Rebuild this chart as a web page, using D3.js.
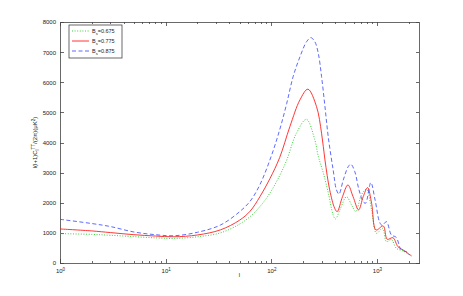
<!DOCTYPE html>
<html>
<head>
<meta charset="utf-8" />
<style>
  body { margin: 0; background: #fff; }
  svg text { font-family: 'Liberation Sans', Arial, sans-serif; fill: #222; }
  .axis path, .axis line { stroke: #444; stroke-width: 0.8px; shape-rendering: crispEdges; }
  .axis text { font-size: 6px; }
  .serie { fill: none; }
</style>
</head>
<body>
<div class="chart"></div>
<script src="https://d3js.org/d3.v7.min.js"></script>
<script>

// data: multipole l and l(l+1)C_l/2pi for each B_s
var ellGreen = [1, 2, 3, 5, 8, 12, 20, 33, 50, 63, 78, 97, 120, 140, 173, 215, 258, 278, 310, 347, 385, 405, 452, 515, 575, 631, 713, 796, 890, 990, 1130, 1231, 1370, 1525, 1770, 2030];
var clGreen  = [975, 950, 920, 875, 835, 815, 870, 1000, 1290, 1540, 1870, 2320, 2900, 3420, 4310, 4770, 4090, 3550, 3000, 2315, 1594, 1462, 1817, 2203, 1927, 1705, 2260, 2448, 1761, 986, 1150, 708, 780, 488, 400, 266];

var ellRed = [1, 2, 3, 5, 8, 12, 20, 33, 50, 63, 78, 97, 120, 150, 187, 222, 268, 299, 322, 357, 398, 420, 472, 531, 594, 670, 741, 815, 890, 980, 1147, 1250, 1418, 1580, 1770, 2130];
var clRed  = [1130, 1065, 1010, 940, 895, 870, 930, 1100, 1420, 1720, 2200, 2800, 3500, 4530, 5420, 5770, 5190, 4310, 3420, 2425, 1817, 1705, 2203, 2591, 2203, 1761, 2203, 2502, 1983, 1096, 1229, 787, 840, 542, 432, 233];

var ellBlue = [1, 2, 3, 5, 8, 12, 20, 33, 50, 63, 78, 100, 120, 140, 161, 187, 216, 237, 258, 278, 299, 322, 347, 385, 414, 437, 480, 535, 566, 617, 676, 741, 780, 875, 960, 1064, 1120, 1231, 1370, 1520, 1700, 1900, 2030];
var clBlue  = [1450, 1310, 1210, 1030, 940, 905, 1020, 1260, 1700, 2050, 2600, 3550, 4420, 5300, 6190, 6850, 7350, 7480, 7350, 6970, 6190, 5190, 4150, 3090, 2425, 2290, 2757, 3200, 3280, 3033, 2425, 2037, 1983, 2668, 2093, 1339, 1250, 1372, 930, 853, 432, 375, 266];

var seriesNames = ['B_s=0.675', 'B_s=0.775', 'B_s=0.875'];
var yTicks = [0, 1000, 2000, 3000, 4000, 5000, 6000, 7000, 8000];
var xMajor = [1, 10, 100, 1000];

var series = [
  { name: seriesNames[0], ell: ellGreen, cl: clGreen, color: '#22cc22', dash: '1,1.6', width: 0.9 },
  { name: seriesNames[1], ell: ellRed,   cl: clRed,   color: '#ff2020', dash: null,    width: 0.9 },
  { name: seriesNames[2], ell: ellBlue,  cl: clBlue,  color: '#3344ff', dash: '4,2.5', width: 0.8 }
];

var margin = {top: 22, right: 44, bottom: 33, left: 60},
    width = 463 - margin.left - margin.right,
    height = 296 - margin.top - margin.bottom;

var x = d3.scaleLog().domain([1, 2500]).range([0, width]);
var y = d3.scaleLinear().domain([0, 8000]).range([height, 0]);

var svg = d3.select('.chart').append('svg')
    .attr('width', 463)
    .attr('height', 296)
  .append('g')
    .attr('transform', 'translate(' + margin.left + ',' + margin.top + ')');

// minor ticks on the log axis
var xAll = [];
for (var d = 1; d < 2500; d *= 10) {
  for (var k = 1; k < 10; k++) { if (d * k <= 2500) xAll.push(d * k); }
}

function supLabel(sel) {
  sel.each(function(v) {
    var t = d3.select(this).text(null);
    t.append('tspan').text('10');
    t.append('tspan').attr('dy', -2.5).attr('font-size', '4.5px').text(Math.round(Math.log10(v)));
  });
}

// bottom axis
var xb = svg.append('g').attr('class', 'axis')
    .attr('transform', 'translate(0,' + height + ')')
    .call(d3.axisBottom(x).tickValues(xAll).tickSizeInner(-2).tickSizeOuter(0)
      .tickFormat(function(v) { return xMajor.indexOf(v) >= 0 ? v : ''; }));
xb.selectAll('.tick line').attr('y2', function(v) { return xMajor.indexOf(v) >= 0 ? -4 : -2; });
xb.selectAll('.tick text').filter(function(v) { return xMajor.indexOf(v) >= 0; })
    .attr('y', 6).call(supLabel);

// top axis
var xt = svg.append('g').attr('class', 'axis')
    .call(d3.axisTop(x).tickValues(xAll).tickSizeInner(-2).tickSizeOuter(0).tickFormat(''));
xt.selectAll('.tick line').attr('y2', function(v) { return xMajor.indexOf(v) >= 0 ? 4 : 2; });

// left and right axes
svg.append('g').attr('class', 'axis')
    .call(d3.axisLeft(y).tickValues(yTicks).tickSizeInner(-3.5).tickSizeOuter(0).tickPadding(4)
      .tickFormat(d3.format('d')));
svg.append('g').attr('class', 'axis')
    .attr('transform', 'translate(' + width + ',0)')
    .call(d3.axisRight(y).tickValues(yTicks).tickSizeInner(-3.5).tickSizeOuter(0).tickFormat(''));

// curves
var line = d3.line()
    .x(function(p) { return x(p[0]); })
    .y(function(p) { return y(p[1]); })
    .curve(d3.curveCatmullRom.alpha(0.5));

series.forEach(function(s) {
  svg.append('path')
      .datum(s.ell.map(function(l, i) { return [l, s.cl[i]]; }))
      .attr('class', 'serie')
      .attr('stroke', s.color)
      .attr('stroke-width', s.width)
      .attr('stroke-dasharray', s.dash)
      .attr('d', line);
});

// axis titles
svg.append('text')
    .attr('x', width / 2)
    .attr('y', height + 14)
    .attr('text-anchor', 'middle')
    .attr('font-size', '6px')
    .text('l');

var yl = svg.append('text')
    .attr('transform', 'translate(-23,' + (height / 2) + ') rotate(-90)')
    .attr('text-anchor', 'middle')
    .attr('font-size', '6px');
yl.append('tspan').text('l(l+1)C');
yl.append('tspan').attr('font-size', '4.5px').attr('dy', 1.5).text('l');
yl.append('tspan').attr('font-size', '4.5px').attr('dy', -4).text('TT');
yl.append('tspan').attr('dy', 2.5).text('/(2\u03c0)(\u03bcK');
yl.append('tspan').attr('font-size', '4.5px').attr('dy', -2.5).text('2');
yl.append('tspan').attr('dy', 2.5).text(')');

// legend
var lg = svg.append('g').attr('transform', 'translate(9,3)');
lg.append('rect')
    .attr('width', 53).attr('height', 33)
    .attr('fill', '#fff').attr('stroke', '#444').attr('stroke-width', 0.8);
series.forEach(function(s, i) {
  var gy = 6 + i * 10;
  lg.append('line')
      .attr('x1', 3).attr('x2', 20).attr('y1', gy).attr('y2', gy)
      .attr('stroke', s.color).attr('stroke-width', s.width)
      .attr('stroke-dasharray', s.dash);
  var t = lg.append('text').attr('x', 23).attr('y', gy + 2).attr('font-size', '5.5px');
  var parts = s.name.split('_s');
  t.append('tspan').text(parts[0]);
  t.append('tspan').attr('font-size', '4px').attr('dy', 1.5).text('s');
  t.append('tspan').attr('dy', -1.5).text(parts[1]);
});

</script>
</body>
</html>
